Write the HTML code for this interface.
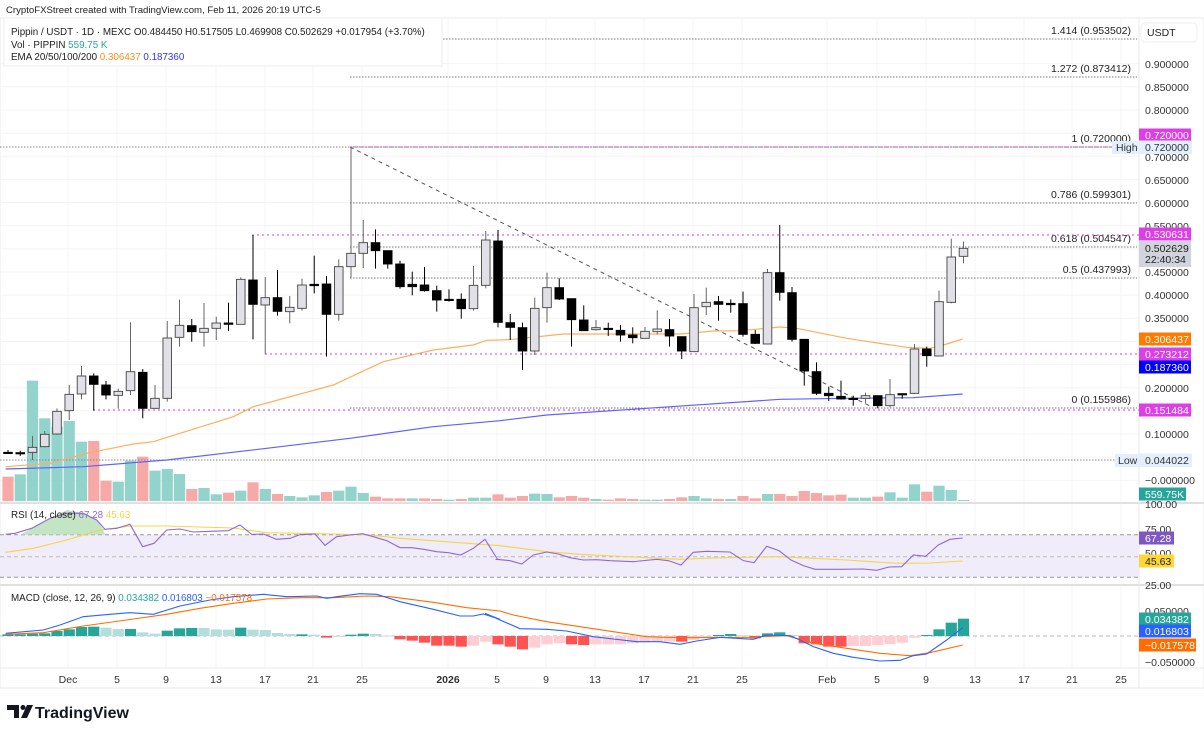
<!DOCTYPE html>
<html><head><meta charset="utf-8">
<style>
html,body{margin:0;padding:0;background:#fff;}
body{width:1204px;height:729px;overflow:hidden;font-family:"Liberation Sans",sans-serif;}
svg{display:block}
text{font-family:"Liberation Sans",sans-serif;}
</style></head>
<body>
<svg id="s" width="1204" height="729" xmlns="http://www.w3.org/2000/svg"></svg>
<script>
const S=document.getElementById('s');let h='';
function add(x){h+=x;}
function X(i){return 8+12.25*i;}
function R(z){return 140+z/3;}
add('<rect x="0" y="18" width="1204" height="670" fill="#fff" stroke="#e8e8e8"/>');
const tl=[[68,'Dec'],[117,'5'],[166,'9'],[216,'13'],[265,'17'],[313,'21'],[362,'25'],[448,'2026'],[497,'5'],[546,'9'],[595,'13'],[644,'17'],[693,'21'],[742,'25'],[827,'Feb'],[877,'5'],[926,'9'],[975,'13'],[1024,'17'],[1072,'21'],[1121,'25']];
tl.forEach(t=>add(`<line x1="${t[0]}" y1="18" x2="${t[0]}" y2="668" stroke="#f4f4f4"/>`));
function py(p){return 147+(0.72-p)*463;}
[0.9,0.85,0.8,0.75,0.7,0.65,0.6,0.55,0.5,0.45,0.4,0.35,0.3,0.25,0.2,0.15,0.1,0.05,0].forEach(p=>add(`<line x1="0" x2="1139" y1="${py(p)}" y2="${py(p)}" stroke="#f4f4f4"/>`));
add('<line x1="0" x2="1204" y1="503" y2="503" stroke="#e0e0e0" stroke-width="2"/><line x1="0" x2="1204" y1="585" y2="585" stroke="#e0e0e0" stroke-width="2"/><line x1="0" x2="1204" y1="668" y2="668" stroke="#e8e8e8"/><line x1="1139" x2="1139" y1="18" y2="688" stroke="#e8e8e8"/>');
const vol=[[1010,0],[1003,1],[722,1],[835,1],[860,1],[843,1],[905,1],[903,0],[1022,0],[1025,1],[962,1],[950,0],[992,1],[987,1],[1002,1],[1047,0],[1044,1],[1063,1],[1058,0],[1052,1],[1027,0],[1047,1],[1062,0],[1068,1],[1072,1],[1066,1],[1056,0],[1052,1],[1040,1],[1059,1],[1070,0],[1075,0],[1075,0],[1075,1],[1075,0],[1077,0],[1079,1],[1077,0],[1073,1],[1073,1],[1063,0],
[1073,0],[1068,0],[1061,1],[1062,1],[1072,0],[1068,0],[1073,0],[1077,1],[1079,0],[1075,0],[1077,0],[1079,1],[1079,1],[1077,0],[1072,0],[1068,1],[1075,1],[1077,0],[1077,1],[1068,0],[1075,0],[1062,1],[1062,0],[1068,0],[1053,0],[1059,0],[1066,0],[1064,0],[1073,1],[1073,1],[1070,0],[1057,1],[1073,1],[1033,1],[1055,0],[1037,1],[1050,1],[1080,1]];
vol.forEach((v,i)=>{const t=R(v[0]);add(`<rect x="${X(i)-5.6}" y="${t}" width="11.2" height="${501-t}" fill="${v[1]?'#92d3cc':'#f7a9a7'}"/>`);});
function dl(x1,x2,y,c,da){add(`<line x1="${x1}" x2="${x2}" y1="${y}" y2="${y}" stroke="${c}" stroke-dasharray="${da||'1.5,1.5'}"/>`);}
dl(0,1139,147,'#888');dl(0,1139,460,'#888');
[[39,'1.414 (0.953502)'],[77,'1.272 (0.873412)'],[147,'1 (0.720000)'],[203,'0.786 (0.599301)'],[247,'0.618 (0.504547)'],[278,'0.5 (0.437993)'],[408,'0 (0.155986)']].forEach(f=>{dl(350,1137,f[0],'#777');add(`<text x="1131" y="${f[0]-5}" font-size="10.5" fill="#222" text-anchor="end">${f[1]}</text>`);});
add('<line x1="350" y1="147" x2="870" y2="406" stroke="#555" stroke-dasharray="4,4"/>');
dl(350,1139,147,'#d63ee0','2,3');dl(252,1139,235,'#d63ee0','2,3');dl(265,1139,354,'#d63ee0','2,3');dl(93,1139,410,'#d63ee0','2,3');
function pl(pts,c,w,fx,fy){return `<polyline fill="none" stroke="${c}" stroke-width="${w}" points="${pts.map(p=>fx(p[0])+','+fy(p[1])).join(' ')}"/>`;}
const z1x=z=>z/3,z2x=z=>480+z/3;
const o1=[[17,980],[150,970],[260,940],[400,912],[460,905],[540,880],[700,830],[760,800],[1000,735],[1150,665],[1300,630],[1420,615],[1460,601],[1500,600]];
const o2=[[100,598],[250,582],[600,582],[700,573],[780,572],[900,561],[950,565],[1100,595],[1280,622],[1350,625],[1400,612],[1448,597]];
add(pl(o1.map(p=>[z1x(p[0]),p[1]]).concat(o2.map(p=>[z2x(p[0]),p[1]])),'#ffae5c',1.2,a=>a,R));
const b1=[[17,987],[250,980],[500,960],[800,925],[1050,895],[1300,860],[1500,842]];
const b2=[[200,825],[500,805],[900,778],[1100,775],[1300,773],[1448,762]];
add(pl(b1.map(p=>[z1x(p[0]),p[1]]).concat(b2.map(p=>[z2x(p[0]),p[1]])),'#6060ff',1.2,a=>a,R));
const C=[[937,940,930,942,0],[938,941,932,948,0],[922,937,888,960,1],[883,920,873,922,1],[814,882,805,884,1],[763,812,735,840,1],[708,762,678,778,1],[708,733,700,812,0],[735,765,723,778,0],[754,766,746,806,1],[695,752,547,765,1],[697,805,687,835,0],[775,805,735,805,1],[594,775,543,785,1],[556,592,479,620,1],[557,575,537,605,0],[565,577,489,620,1],[549,565,530,600,1],[549,553,488,573,0],[418,553,412,553,1],[420,493,285,598,0],[473,495,411,643,1],[473,514,390,527,0],[502,515,468,550,1],[435,505,416,512,1],[433,437,347,460,0],[432,523,408,650,0],[380,523,358,542,1],[340,380,22,414,1],[308,340,240,384,1],[308,332,268,386,0],[332,372,332,386,0],[372,440,362,446,0],[433,440,395,466,0],[435,452,381,455,0],[452,480,437,515,0],[478,481,448,485,0],[478,506,460,536,0],[436,506,378,512,1],[300,436,273,445,1],[303,547,270,562,0],
[548,562,522,600,0],[563,633,548,690,0],[505,633,473,645,1],[443,503,398,548,1],[443,477,415,480,0],[476,539,476,620,0],[540,572,496,572,0],[563,569,540,572,1],[565,568,548,588,0],[571,585,555,605,0],[585,593,562,610,0],[574,595,561,595,1],[567,575,511,583,1],[569,588,537,620,0],[590,633,590,657,0],[503,635,462,635,1],[487,500,443,525,1],[485,493,468,542,0],[490,494,478,518,0],[491,583,455,590,0],[583,610,570,612,0],[398,612,387,612,1],[398,457,255,482,0],[458,598,441,605,0],[598,693,598,737,0],[695,760,667,765,0],[760,767,740,783,0],[769,777,722,779,0],[775,777,767,797,0],[767,775,758,790,1],[767,797,767,805,0],[764,797,717,802,1],[761,764,760,776,0],[627,760,612,762,1],[627,647,620,680,0],[485,648,452,648,1],[351,487,296,490,1],[325,349,305,370,1]];
C.forEach((c,i)=>{const x=X(i);add(`<line x1="${x}" x2="${x}" y1="${R(c[2])}" y2="${R(c[3])}" stroke="${c[4]?'#666':'#000'}" stroke-width="1"/>`);let t=R(c[0]),b=R(c[1]);if(b-t<1.2)b=t+1.2;add(`<rect x="${x-4.3}" y="${t}" width="8.6" height="${b-t}" fill="${c[4]?'#e0e0e6':'#000'}" stroke="${c[4]?'#444':'#000'}" stroke-width="0.9"/>`);});
add('<rect x="0" y="534.7" width="1139" height="42.5" fill="#f0ecf9"/>');
dl(0,1139,534.7,'#999','4,3');dl(0,1139,556.7,'#bbb','4,3');dl(0,1139,577.3,'#999','4,3');
const r6=[[17,103],[45,100],[95,85],[150,55],[200,40],[250,40],[290,60],[315,88],[350,85],[390,73],[428,140],[462,130],[500,90],[540,87],[580,96],[630,94],[685,92],[720,75],[755,103],[790,102],[830,118],[870,115],[900,104],[945,102],[975,136],[1010,110],[1050,105],[1088,101],[1120,110],[1160,122],[1200,143],[1235,143],[1272,148],[1310,155],[1345,158],[1382,165],[1420,145],[1455,118],[1492,177]];
const r7=[[50,178],[90,182],[125,192],[160,165],[200,156],[235,162],[270,173],[310,180],[350,179],[390,182],[460,185],[530,178],[565,182],[603,195],[640,157],[680,154],[750,156],[790,182],[822,188],[860,139],[897,152],[933,180],[970,197],[1005,208],[1080,208],[1150,207],[1190,211],[1227,201],[1265,200],[1300,165],[1337,169],[1375,135],[1410,118],[1448,114]];
const R2=z=>500+z/3;
const rsi=r6.map(p=>[z1x(p[0]),p[1]]).concat(r7.map(p=>[z2x(p[0]),p[1]]));
add(`<path d="M20,534.7 L33,528 L50,518 L67,510 L83,513 L97,520 L103,529 L105,534.7 Z" fill="#b5dfb5" opacity="0.8"/>`);
const y6=[[17,157],[100,145],[200,120],[300,90],[390,78],[500,78],[700,84],[800,98],[1000,102],[1100,104],[1200,115],[1500,137]];
const y7=[[100,142],[200,155],[300,163],[400,168],[600,178],[700,174],[900,170],[1100,180],[1250,190],[1350,189],[1448,183]];
add(pl(y6.map(p=>[z1x(p[0]),p[1]]).concat(y7.map(p=>[z2x(p[0]),p[1]])),'#f5d547',1.1,a=>a,R2));
add(pl(rsi,'#8e6ad0',1.1,a=>a,R2));
dl(0,1139,636,'#bbb','4,3');
const hst=[[403,1],[403,1],[401,1],[400,1],[393,1],[388,1],[381,1],[380,1],[383,2],[387,2],[387,1],[397,2],[401,2],[392,1],[385,1],[384,1],[384,2],[388,2],[389,2],[383,1],[389,2],[390,2],[399,2],[402,2],[403,1],[404,2],[413,3],[409,2],[404,1],[401,1],[402,2],[407,2],[418,3],[422,3],[428,3],[437,3],[437,3],[440,3],[437,4],[425,4],[433,3],
[440,3],[448,3],[443,4],[433,4],[430,4],[433,3],[435,3],[433,4],[433,4],[433,4],[430,4],[427,4],[425,4],[425,4],[425,3],[420,4],[410,2],[405,1],[402,1],[406,2],[415,3],[400,1],[397,1],[405,2],[430,3],[433,3],[440,3],[440,3],[438,4],[438,4],[435,4],[432,4],[428,4],[413,4],[405,1],[388,1],[368,1],[356,1]];
const hc={1:'#26a69a',2:'#b2dfdb',3:'#ff5252',4:'#ffcdd2'};
hst.forEach((v,i)=>{const y=R2(v[0]);const t=Math.min(y,636),b=Math.max(y,636);add(`<rect x="${X(i)-5.6}" y="${t}" width="11.2" height="${Math.max(b-t,0.8)}" fill="${hc[v[1]]}"/>`);});
const m6=[[17,400],[130,390],[180,375],[250,350],[330,343],[390,338],[460,343],[540,318],[630,300],[700,290],[790,283],[860,290],[950,288],[980,295],[1010,290],[1080,281],[1130,283],[1200,305],[1300,328],[1380,348],[1420,348],[1450,342],[1500,358]];
const m7=[[15,340],[120,386],[200,388],[260,393],[340,410],[400,417],[470,425],[540,425],[600,433],[650,423],[720,412],[820,418],[860,405],[930,407],[960,420],[1000,440],[1060,460],[1120,472],[1200,483],[1260,481],[1300,467],[1340,462],[1400,420],[1448,383]];
const s6=[[17,403],[130,398],[250,378],[400,357],[500,343],[600,325],[700,310],[800,297],[900,293],[1000,293],[1100,288],[1170,290],[1300,307],[1400,323],[1500,333]];
const s7=[[100,345],[200,365],[300,380],[400,395],[500,410],[600,413],[800,412],[920,407],[1000,430],[1100,445],[1200,460],[1290,467],[1350,458],[1448,435]];
add(pl(s6.map(p=>[z1x(p[0]),p[1]]).concat(s7.map(p=>[z2x(p[0]),p[1]])),'#ff6d00',1.1,a=>a,R2));
add(pl(m6.map(p=>[z1x(p[0]),p[1]]).concat(m7.map(p=>[z2x(p[0]),p[1]])),'#2962ff',1.1,a=>a,R2));
tl.forEach(t=>add(`<text x="${t[0]}" y="683" font-size="10.5" fill="#333" text-anchor="middle" ${t[1]=='2026'?'font-weight="bold"':''}>${t[1]}</text>`));
[[64,'0.900000'],[87,'0.850000'],[110,'0.800000'],[157,'0.700000'],[180,'0.650000'],[203,'0.600000'],[226,'0.550000'],[272,'0.450000'],[295,'0.400000'],[318,'0.350000'],[365,'0.250000'],[388,'0.200000'],[434,'0.100000'],[480,'\u22120.000000'],[504,'100.00'],[529,'75.00'],[553,'50.00'],[585,'25.00'],[611,'0.050000'],[662,'\u22120.050000']].forEach(t=>add(`<text x="1145" y="${t[0]+4}" font-size="10.5" fill="#333">${t[1]}</text>`));
function tag(y,txt,bg,fg,w){add(`<rect x="1139" y="${y-6.5}" width="${w||52}" height="13" fill="${bg}"/><text x="1145" y="${y+4}" font-size="10.5" fill="${fg}">${txt}</text>`);}
add('<rect x="1141" y="23" width="56" height="19" rx="4" fill="#fff" stroke="#eee"/><text x="1147" y="36" font-size="10.5" fill="#222">USDT</text>');
tag(135,'0.720000','#dd3ee8','#fff');
add('<rect x="1112" y="141" width="80" height="13" fill="#e3effd"/><text x="1116" y="151" font-size="10.5" fill="#333">High</text>');tag(147,'0.720000','#e3effd','#333');
tag(234,'0.530631','#dd3ee8','#fff');
add('<rect x="1139" y="241" width="52" height="26" fill="#d1d4dc"/><text x="1145" y="252" font-size="10.5" fill="#222">0.502629</text><text x="1145" y="263" font-size="10.5" fill="#222">22:40:34</text>');
tag(339,'0.306437','#ff7b00','#fff');tag(354,'0.273212','#dd3ee8','#fff');tag(367,'0.187360','#0000ff','#fff');tag(410,'0.151484','#dd3ee8','#fff');
add('<rect x="1115" y="454" width="77" height="13" fill="#e3effd"/><text x="1118" y="464" font-size="10.5" fill="#333">Low</text>');tag(460,'0.044022','#e3effd','#333');
tag(494,'559.75K','#26a69a','#fff',47);
tag(538,'67.28','#7e57c2','#fff',35);tag(561,'45.63','#fdd835','#222',35);
tag(619,'0.034382','#26a69a','#fff');tag(631,'0.016803','#2962ff','#fff');tag(645,'\u22120.017578','#ff6d00','#fff',57);
add('<rect x="4" y="18" width="438" height="48" fill="#fff" stroke="#eee"/>');
add('<text x="6" y="13" font-size="9.6" fill="#222">CryptoFXStreet created with TradingView.com, Feb 11, 2026 20:19 UTC-5</text>');
add('<text x="11" y="35" font-size="9.8" fill="#222">Pippin / USDT · 1D · MEXC  O0.484450  H0.517505  L0.469908  C0.502629  +0.017954 (+3.70%)</text>');
add('<text x="11" y="48" font-size="9.8" fill="#222">Vol · PIPPIN <tspan fill="#26a69a">559.75 K</tspan></text>');
add('<text x="11" y="60" font-size="9.8" fill="#222">EMA 20/50/100/200 <tspan fill="#ff8c1a">0.306437</tspan> <tspan fill="#3030ff">0.187360</tspan></text>');
add('<text x="11" y="518" font-size="9.8" fill="#222">RSI (14, close) <tspan fill="#8e6ad0">67.28</tspan> <tspan fill="#f5d547">45.63</tspan></text>');
add('<text x="11" y="601" font-size="9.8" fill="#222">MACD (close, 12, 26, 9) <tspan fill="#26a69a">0.034382</tspan> <tspan fill="#2962ff">0.016803</tspan> <tspan fill="#ff6d00">\u22120.017578</tspan></text>');
add('<path d="M7,705 h12 v13 h-5 v-8 h-7z" fill="#131722"/><circle cx="23" cy="707.5" r="2.5" fill="#131722"/><path d="M27,705 h6 l-6,13 h-6z" fill="#131722"/>');
add('<text x="35" y="718" font-size="16" font-weight="bold" fill="#131722">TradingView</text>');
S.innerHTML=h;
</script>
</body></html>
